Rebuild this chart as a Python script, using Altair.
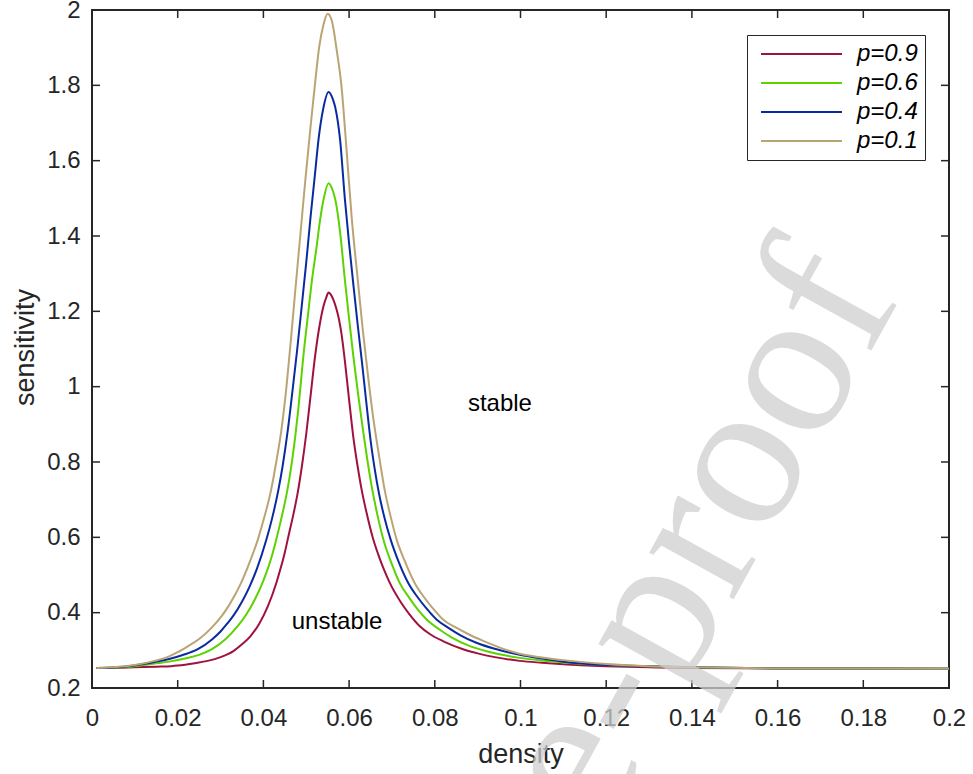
import altair as alt
import pandas as pd

series = ["p=0.9", "p=0.6", "p=0.4", "p=0.1"]
colors = ["#A0123E", "#5CD300", "#0A2BA0", "#BBA474"]

x_p09 = [0.001, 0.0068, 0.010, 0.015, 0.0185, 0.020, 0.024, 0.027, 0.030, 0.033, 0.035, 0.037, 0.039, 0.041, 0.043, 0.044,
         0.045, 0.046, 0.047, 0.048, 0.049, 0.050, 0.051, 0.052, 0.053, 0.054, 0.0547, 0.0552, 0.0557, 0.0563, 0.0571, 0.0577,
         0.0582, 0.0590, 0.0600, 0.0610, 0.0620, 0.0629, 0.0640, 0.0656, 0.0670, 0.0680, 0.0695, 0.0720, 0.0740, 0.0765,
         0.0790, 0.0820, 0.0866, 0.0900, 0.0940, 0.0998, 0.1050, 0.1100, 0.1200, 0.1300, 0.1400, 0.1600, 0.2000]
y_p09 = [0.253, 0.254, 0.255, 0.2565, 0.258, 0.2596, 0.266, 0.272, 0.282, 0.298, 0.316, 0.338, 0.370, 0.416, 0.478, 0.517,
         0.560, 0.611, 0.661, 0.718, 0.790, 0.875, 0.975, 1.075, 1.155, 1.213, 1.238, 1.25, 1.245, 1.232, 1.204, 1.175,
         1.142, 1.07, 0.965, 0.865, 0.788, 0.728, 0.669, 0.596, 0.548, 0.518, 0.479, 0.429, 0.397, 0.364,
         0.342, 0.324, 0.303, 0.292, 0.282, 0.272, 0.267, 0.263, 0.258, 0.255, 0.253, 0.252, 0.251]

x_p06 = [0.001, 0.0068, 0.010, 0.0146, 0.018, 0.022, 0.025, 0.028, 0.031, 0.034, 0.036, 0.038, 0.040, 0.042, 0.043, 0.044,
         0.0456, 0.046, 0.0474, 0.048, 0.0495, 0.0505, 0.0513, 0.0524, 0.0532, 0.0541, 0.0552, 0.0562, 0.0569, 0.0579, 0.0590,
         0.0600, 0.0610, 0.0621, 0.0633, 0.0642, 0.0652, 0.0665, 0.0680, 0.0700, 0.0718, 0.0740, 0.0760, 0.0781, 0.0810,
         0.0840, 0.0882, 0.0930, 0.0998, 0.1050, 0.1100, 0.1200, 0.1300, 0.1400, 0.1600, 0.2000]
y_p06 = [0.253, 0.255, 0.258, 0.265, 0.270, 0.279, 0.288, 0.303, 0.328, 0.364, 0.395, 0.435, 0.485, 0.551, 0.594, 0.641,
         0.726, 0.752, 0.865, 0.925, 1.10, 1.20, 1.28, 1.37, 1.44, 1.50, 1.54, 1.52, 1.49, 1.41, 1.285,
         1.18, 1.08, 0.98, 0.88, 0.81, 0.74, 0.665, 0.594, 0.528, 0.479, 0.440, 0.409, 0.382, 0.356,
         0.334, 0.311, 0.295, 0.280, 0.273, 0.268, 0.261, 0.2575, 0.255, 0.252, 0.251]

x_p04 = [0.001, 0.0068, 0.010, 0.0146, 0.018, 0.021, 0.0247, 0.028, 0.030, 0.0317, 0.033, 0.035, 0.0368, 0.0385, 0.0407,
         0.042, 0.0435, 0.0445, 0.0457, 0.0468, 0.0479, 0.0490, 0.0500, 0.0510, 0.0520, 0.0529, 0.0540, 0.0552, 0.0563,
         0.0568, 0.0579, 0.0590, 0.0600, 0.0610, 0.0620, 0.0630, 0.0640, 0.0650, 0.0660, 0.0670, 0.0683, 0.0697, 0.0715,
         0.0738, 0.0760, 0.0780, 0.0804, 0.0830, 0.0860, 0.0897, 0.0940, 0.0998, 0.1050, 0.1100, 0.1200, 0.1300, 0.1400,
         0.1600, 0.2000]
y_p04 = [0.253, 0.256, 0.260, 0.269, 0.277, 0.287, 0.303, 0.329, 0.350, 0.373, 0.392, 0.429, 0.470, 0.517, 0.594,
         0.649, 0.726, 0.790, 0.885, 0.99, 1.10, 1.22, 1.33, 1.45, 1.56, 1.66, 1.74, 1.782, 1.76,
         1.74, 1.655, 1.50, 1.38, 1.27, 1.165, 1.065, 0.96, 0.859, 0.78, 0.715, 0.65, 0.594, 0.537,
         0.479, 0.441, 0.412, 0.382, 0.361, 0.340, 0.320, 0.304, 0.288, 0.278, 0.270, 0.261, 0.2575, 0.255,
         0.252, 0.251]

x_p01 = [0.001, 0.0068, 0.010, 0.0146, 0.018, 0.020, 0.0224, 0.025, 0.028, 0.0302, 0.032, 0.0348, 0.0368, 0.0387, 0.0403,
         0.0418, 0.043, 0.0442, 0.0452, 0.0463, 0.0474, 0.0486, 0.0498, 0.0510, 0.0521, 0.0530, 0.0540, 0.0550, 0.0560,
         0.0571, 0.0582, 0.0594, 0.0606, 0.0621, 0.0632, 0.0644, 0.0656, 0.0668, 0.0683, 0.0697, 0.0711, 0.0730, 0.0753,
         0.0775, 0.0795, 0.0819, 0.0850, 0.0880, 0.0913, 0.0955, 0.0998, 0.1050, 0.1100, 0.1200, 0.1300, 0.1400, 0.1600, 0.2000]
y_p01 = [0.253, 0.257, 0.261, 0.272, 0.284, 0.295, 0.311, 0.330, 0.361, 0.390, 0.420, 0.479, 0.534, 0.594, 0.657,
         0.726, 0.80, 0.885, 0.98, 1.11, 1.25, 1.40, 1.55, 1.69, 1.81, 1.90, 1.96, 1.99, 1.97,
         1.894, 1.80, 1.63, 1.45, 1.275, 1.15, 1.03, 0.92, 0.83, 0.726, 0.655, 0.594, 0.537, 0.479,
         0.441, 0.412, 0.382, 0.360, 0.342, 0.325, 0.306, 0.291, 0.281, 0.274, 0.264, 0.258, 0.255, 0.252, 0.251]

x_ticks = [0, 0.02, 0.04, 0.06, 0.08, 0.1, 0.12, 0.14, 0.16, 0.18, 0.2]
y_ticks = [0.2, 0.4, 0.6, 0.8, 1.0, 1.2, 1.4, 1.6, 1.8, 2.0]

ann_text = ["stable", "unstable"]
ann_x = [0.0952, 0.0572]
ann_y = [0.955, 0.374]

watermark = ["Journal Pre-proof"]

rows = []
for name, xs, ys in zip(series, [x_p09, x_p06, x_p04, x_p01], [y_p09, y_p06, y_p04, y_p01]):
    for a, b in zip(xs, ys):
        rows.append({"series": name, "density": a, "sensitivity": b})
df = pd.DataFrame(rows)

W, H = 857, 678
FONT = "Liberation Sans"
AX = "#262626"

xscale = alt.Scale(domain=[0, 0.2], nice=False, zero=False)
yscale = alt.Scale(domain=[0.2, 2], nice=False, zero=False)

xaxis = alt.Axis(values=x_ticks, format="~g", title="density", grid=False, domain=False, ticks=False, tickSize=0,
                 labelPadding=37, labelBaseline="alphabetic", labelFlush=False, labelOverlap=False,
                 titleY=74, titleBaseline="alphabetic")
yaxis = alt.Axis(values=y_ticks, format="~g", title="sensitivity", grid=False, domain=False, ticks=False, tickSize=0,
                 labelPadding=12, labelFlush=False, labelOverlap=False,
                 titleX=-59, titleY=337, titleAngle=270, titleAlign="center", titleBaseline="alphabetic")

lines = alt.Chart(df).mark_line(strokeWidth=2, interpolate="monotone").encode(
    x=alt.X("density:Q", scale=xscale, axis=xaxis),
    y=alt.Y("sensitivity:Q", scale=yscale, axis=yaxis),
    color=alt.Color("series:N", scale=alt.Scale(domain=series, range=colors),
                    legend=alt.Legend(title=None, orient="none", legendX=655, legendY=25,
                                      symbolType="stroke", symbolSize=6561, symbolStrokeWidth=2,
                                      clipHeight=24, rowPadding=5, padding=7, symbolOffset=6, labelOffset=14,
                                      labelFontSize=24, labelFontStyle="italic", labelFont=FONT, labelColor="#000000",
                                      strokeColor=AX, fillColor="white", cornerRadius=0)),
    order=alt.Order("density:Q"),
)

xt_df = pd.DataFrame({"density": x_ticks})
yt_df = pd.DataFrame({"sensitivity": y_ticks})
rule_style = dict(color=AX, strokeWidth=1.5)
bottom_t = alt.Chart(xt_df).mark_rule(**rule_style).encode(
    x=alt.X("density:Q", scale=xscale), y=alt.value(H), y2=alt.value(H - 8))
top_t = alt.Chart(xt_df).mark_rule(**rule_style).encode(
    x=alt.X("density:Q", scale=xscale), y=alt.value(0), y2=alt.value(8))
left_t = alt.Chart(yt_df).mark_rule(**rule_style).encode(
    y=alt.Y("sensitivity:Q", scale=yscale), x=alt.value(0), x2=alt.value(8))
right_t = alt.Chart(yt_df).mark_rule(**rule_style).encode(
    y=alt.Y("sensitivity:Q", scale=yscale), x=alt.value(W), x2=alt.value(W - 8))

ann_df = pd.DataFrame({"label": ann_text, "density": ann_x, "sensitivity": ann_y})
ann = alt.Chart(ann_df).mark_text(font=FONT, fontSize=24, color="#000000").encode(
    x=alt.X("density:Q", scale=xscale), y=alt.Y("sensitivity:Q", scale=yscale), text="label:N")

wm_df = pd.DataFrame({"t": watermark})
wm = alt.Chart(wm_df).mark_text(font="Liberation Serif", fontSize=210, angle=299, align="right",
                                baseline="alphabetic", color="#cfcfcf", opacity=0.75).encode(
    text="t:N", x=alt.value(809), y=alt.value(287))

chart = alt.layer(bottom_t, top_t, left_t, right_t, lines, ann, wm).properties(
    width=W, height=H,
    autosize=alt.AutoSizeParams(type="none"),
    padding={"left": 92, "top": 10, "right": 24, "bottom": 86},
).configure_view(stroke=AX, strokeWidth=2).configure_axis(
    labelFont=FONT, labelFontSize=24, labelColor=AX,
    titleFont=FONT, titleFontSize=27, titleFontWeight="normal", titleColor=AX,
)

chart.save("out.html", embed_options={"renderer": "svg", "actions": False})
